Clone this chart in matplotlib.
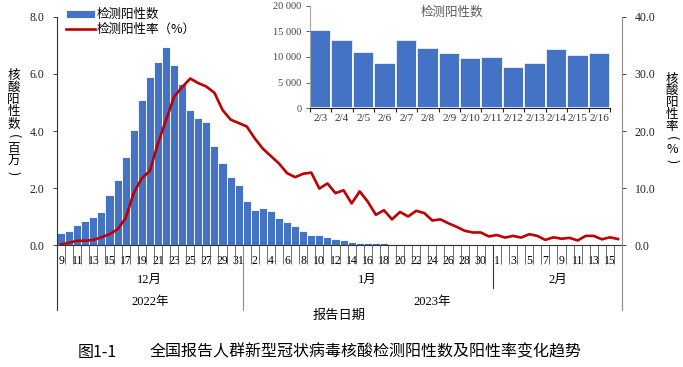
import matplotlib
matplotlib.use("Agg")
import matplotlib.pyplot as plt
import matplotlib.transforms as mtransforms
from matplotlib.ticker import FuncFormatter
import numpy as np
import pandas as pd

plt.rcParams["font.family"] = ["Liberation Serif", "Noto Sans CJK SC"]

# report dates 2022-12-09 .. 2023-02-16
dates = pd.date_range("2022-12-09", "2023-02-16")

# positive tests, millions
positive_m = [
    # Dec 9-31
    0.43, 0.49, 0.70, 0.85, 0.98, 1.17, 1.75, 2.27, 3.09, 4.04, 5.08, 5.89,
    6.41, 6.95, 6.33, 5.66, 4.72, 4.44, 4.30, 3.47, 2.89, 2.39, 2.11,
    # Jan 1-31
    1.54, 1.23, 1.31, 1.20, 0.94, 0.81, 0.67, 0.48, 0.35, 0.35, 0.27, 0.20,
    0.16, 0.12, 0.08, 0.07, 0.07, 0.06, 0.04, 0.035, 0.03, 0.025, 0.025,
    0.022, 0.02, 0.02, 0.019, 0.018, 0.017, 0.017, 0.016,
    # Feb 1-16
    0.016, 0.015, 0.0152, 0.0133, 0.0110, 0.0088, 0.0134, 0.0118, 0.0108,
    0.0098, 0.0100, 0.0080, 0.0089, 0.0116, 0.0104, 0.0108,
]

# positive rate, %
positive_rate = [
    # Dec 9-31
    0.1, 0.4, 0.75, 0.75, 0.9, 1.35, 1.9, 2.75, 4.7, 9.1, 11.7, 13.0, 17.8,
    21.9, 26.0, 27.7, 29.2, 28.4, 27.8, 26.7, 23.7, 22.0, 21.4,
    # Jan 1-31
    20.8, 18.7, 16.9, 15.6, 14.3, 12.6, 11.9, 12.5, 12.7, 9.9, 10.8, 9.1,
    9.6, 7.3, 9.4, 7.6, 5.3, 6.1, 4.5, 5.8, 5.0, 6.0, 5.6, 4.3, 4.5, 3.8,
    3.2, 2.5, 2.2, 2.2, 1.5,
    # Feb 1-16
    1.75, 1.3, 1.6, 1.3, 1.9, 1.6, 0.9, 1.35, 1.1, 1.25, 0.8, 1.6, 1.6, 1.0,
    1.35, 1.05,
]

# inset: Feb 3-16
inset_labels = ["2/3", "2/4", "2/5", "2/6", "2/7", "2/8", "2/9", "2/10",
                "2/11", "2/12", "2/13", "2/14", "2/15", "2/16"]
inset_counts = [15200, 13300, 11000, 8770, 13380, 11800, 10840, 9800,
                10000, 7990, 8900, 11560, 10390, 10780]

blue = "#4472C4"
red = "#C00000"
cjk = ["Noto Sans CJK SC"]

fig = plt.figure(figsize=(6.83, 3.67), dpi=100)
ax = fig.add_axes([0.0835, 0.3324, 0.8272, 0.6213])

x = np.arange(len(dates))
bars = ax.bar(x, positive_m, width=1.0, color=blue, edgecolor="white",
              linewidth=0.6, label="检测阳性数")
ax.set_xlim(-0.5, len(x) - 0.5)
ax.set_ylim(0, 8)
ax.set_yticks([0, 2, 4, 6, 8])
ax.yaxis.set_major_formatter(FuncFormatter(lambda v, p: f"{v:.1f}"))
ax.tick_params(axis="y", length=3, width=0.6, pad=6, labelsize=8.5,
               colors="#222222")

for s in ["top", "right"]:
    ax.spines[s].set_visible(False)
ax.spines["left"].set_color("#333333")
ax.spines["bottom"].set_color("#333333")
ax.spines["left"].set_linewidth(0.8)
ax.spines["bottom"].set_linewidth(0.8)

# day labels every second day, tick lines at every day boundary
lab_idx = x[::2]
ax.set_xticks(lab_idx)
ax.set_xticklabels([str(dates[i].day) for i in lab_idx])
ax.set_xticks(np.arange(-0.5, len(x), 1.0), minor=True)
ax.tick_params(axis="x", which="major", length=0, pad=7, labelsize=8.5)
ax.tick_params(axis="x", which="minor", length=14, width=0.6,
               color="#555555")

ax2 = ax.twinx()
line, = ax2.plot(x, positive_rate, color=red, lw=1.9, label="检测阳性率（%）")
ax2.set_ylim(0, 40)
ax2.set_yticks([0, 10, 20, 30, 40])
ax2.yaxis.set_major_formatter(FuncFormatter(lambda v, p: f"{v:.1f}"))
ax2.tick_params(axis="y", length=3, width=0.6, pad=6, labelsize=8.5,
                colors="#222222")
for s in ["top", "left", "bottom"]:
    ax2.spines[s].set_visible(False)
ax2.spines["right"].set_color("#8c8c8c")
ax2.spines["right"].set_linewidth(0.8)

# month / year rows below the axis
trans = mtransforms.blended_transform_factory(ax.transData, ax.transAxes)
month_row = -0.155
year_row = -0.25
for xv, y_end, c in [(-0.5, -0.285, "#333333"), (22.5, -0.285, "#8c8c8c"),
                     (53.5, -0.19, "#333333"), (len(x) - 0.5, -0.285, "#8c8c8c")]:
    ax.plot([xv, xv], [0, y_end], transform=trans, clip_on=False,
            color=c, lw=0.8)

months = [("12月", 11), ("1月", 38), ("2月", 61.5)]
for txt, xc in months:
    ax.text(xc, month_row, txt, transform=trans, ha="center", va="center",
            fontsize=9)
years = [("2022年", 11), ("2023年", 46)]
for txt, xc in years:
    ax.text(xc, year_row, txt, transform=trans, ha="center", va="center",
            fontsize=9)

ax.text(0.5, -0.31, "报告日期", transform=ax.transAxes, ha="center",
        va="center", fontsize=9.5, family=cjk)


# vertical axis titles, one character per row, brackets turned sideways
def stacked_label(xpx, y0, chars, pitch):
    for k, ch in enumerate(chars):
        rot = -90 if ch in "()" else 0
        fig.text(xpx / 683, 1 - (y0 + k * pitch) / 367, ch, ha="center",
                 va="center", rotation=rot, fontsize=9,
                 family=["Noto Sans CJK SC", "DejaVu Sans"])


stacked_label(13.5, 75, "核酸阳性数(百万)", 12.3)
stacked_label(672, 79, "核酸阳性率(%)", 11.8)

# legend
fig.legend([bars, line], ["检测阳性数", "检测阳性率（%）"], loc="upper left",
           bbox_to_anchor=(0.093, 0.984), frameon=False,
           handlelength=2.3, handleheight=0.6, handletextpad=0.15,
           labelspacing=0.15, borderaxespad=0, borderpad=0.2,
           prop={"family": cjk, "size": 9})

# inset chart
axi = fig.add_axes([0.4539, 0.705, 0.4392, 0.2796])
axi.set_facecolor("none")
xi = np.arange(len(inset_labels))
axi.bar(xi, inset_counts, width=1.0, color=blue, edgecolor="white",
        linewidth=1.2)
axi.set_xlim(-0.5, len(xi) - 0.5)
axi.set_ylim(0, 20000)
axi.set_yticks([0, 5000, 10000, 15000, 20000])
axi.yaxis.set_major_formatter(
    FuncFormatter(lambda v, p: f"{int(v):,}".replace(",", " ")))
axi.set_xticks(xi)
axi.set_xticklabels(inset_labels)
axi.set_xticks(np.arange(-0.5, len(xi), 1.0), minor=True)
axi.tick_params(axis="x", which="major", length=0, pad=4, labelsize=8,
                colors="#333333")
axi.tick_params(axis="x", which="minor", length=3, width=0.8,
                color="#222222")
axi.tick_params(axis="y", length=3, width=0.6, pad=3, labelsize=7.5,
                colors="#444444")
for s in ["top", "right"]:
    axi.spines[s].set_visible(False)
axi.spines["left"].set_color("#a6a6a6")
axi.spines["bottom"].set_color("#222222")
axi.text(0.473, 0.93, "检测阳性数", transform=axi.transAxes, ha="center",
         va="center", fontsize=9, color="#595959", family=cjk)

# caption
fig.text(78 / 683, 1 - 352 / 367, "图1-1", ha="left", va="center",
         fontsize=11.5, family=cjk)
fig.text(150 / 683, 1 - 352 / 367, "全国报告人群新型冠状病毒核酸检测阳性数及阳性率变化趋势",
         ha="left", va="center", fontsize=11.5, family=cjk)

fig.savefig("out.png", dpi=100)
